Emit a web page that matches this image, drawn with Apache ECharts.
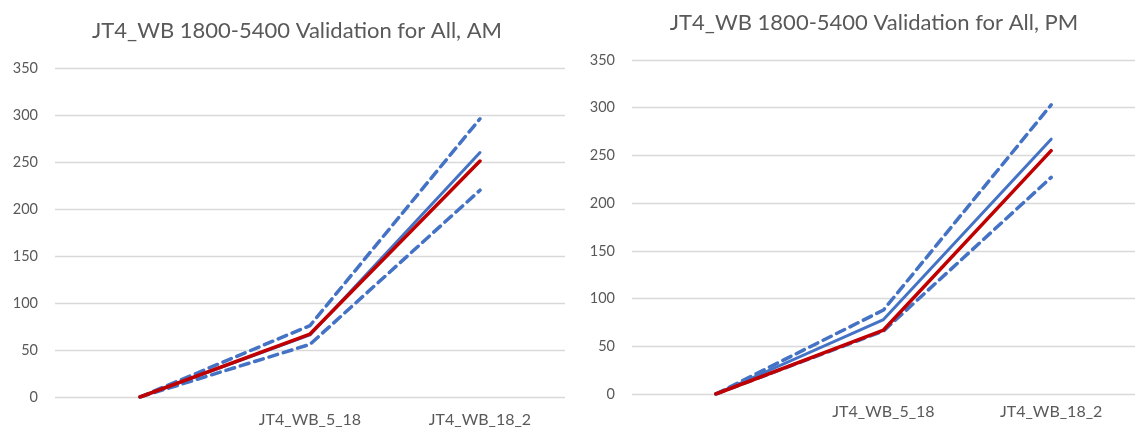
<!DOCTYPE html>
<html>
<head>
<meta charset="utf-8">
<script src="https://cdn.jsdelivr.net/npm/echarts@6/dist/echarts.min.js"></script>
<style>
  html, body { margin: 0; padding: 0; background: #fff; }
  #chart { width: 1135px; height: 428px; }
</style>
</head>
<body>
<div id="chart"></div>
<script>
// Category axis (first point is the unlabeled origin)
const categories = ['', 'JT4_WB_5_18', 'JT4_WB_18_2'];
const yTicks = [0, 50, 100, 150, 200, 250, 300, 350];

// AM period
const amUpper = [0, 76, 296];
const amLower = [0, 56, 220];
const amModel = [0, 66, 260];
const amCount = [0, 67, 251];

// PM period
const pmUpper = [0, 88, 303];
const pmLower = [0, 66, 227];
const pmModel = [0, 78, 267];
const pmCount = [0, 67, 255];

const BLUE = '#4472C4';
const RED = '#C00000';
const TEXT = '#595959';
const GRID = '#D9D9D9';
const FONT = 'Lato, "Open Sans", sans-serif';

function xAxis(gridIndex, margin) {
  return {
    type: 'category', gridIndex, data: categories, boundaryGap: true,
    axisLine: { show: false }, axisTick: { show: false },
    axisLabel: { color: TEXT, fontSize: 16, fontFamily: FONT, margin, interval: 0 }
  };
}
function yAxis(gridIndex) {
  return {
    type: 'value', gridIndex, min: yTicks[0], max: yTicks[yTicks.length - 1], interval: 50,
    axisLine: { show: false }, axisTick: { show: false },
    axisLabel: { color: TEXT, fontSize: 14.5, fontFamily: FONT, margin: 17 },
    splitLine: { lineStyle: { color: GRID, width: 1.3 } }
  };
}
function line(idx, data, color, dashed) {
  return {
    type: 'line', xAxisIndex: idx, yAxisIndex: idx, data,
    symbol: 'none', animation: false, silent: true,
    lineStyle: dashed
      ? { color, width: 3.5, type: [9, 6], cap: 'round' }
      : { color, width: color === RED ? 3.5 : 3, cap: 'round', join: 'round' }
  };
}

const chart = echarts.init(document.getElementById('chart'), null, { renderer: 'canvas' });
chart.setOption({
  backgroundColor: '#fff',
  title: [
    { text: 'JT4_WB 1800-5400 Validation for All, AM', left: 292, top: 15, textAlign: 'center',
      textStyle: { color: TEXT, fontSize: 22, fontWeight: 'normal', fontFamily: FONT } },
    { text: 'JT4_WB 1800-5400 Validation for All, PM', left: 869, top: 7, textAlign: 'center',
      textStyle: { color: TEXT, fontSize: 22, fontWeight: 'normal', fontFamily: FONT } }
  ],
  grid: [
    { left: 55, top: 68, width: 510, height: 331 },
    { left: 632, top: 60, width: 513, height: 334 }
  ],
  xAxis: [xAxis(0, 15), xAxis(1, 10)],
  yAxis: [yAxis(0), yAxis(1)],
  series: [
    line(0, amUpper, BLUE, true),
    line(0, amLower, BLUE, true),
    line(0, amModel, BLUE, false),
    line(0, amCount, RED, false),
    line(1, pmUpper, BLUE, true),
    line(1, pmLower, BLUE, true),
    line(1, pmModel, BLUE, false),
    line(1, pmCount, RED, false)
  ]
});
</script>
</body>
</html>
